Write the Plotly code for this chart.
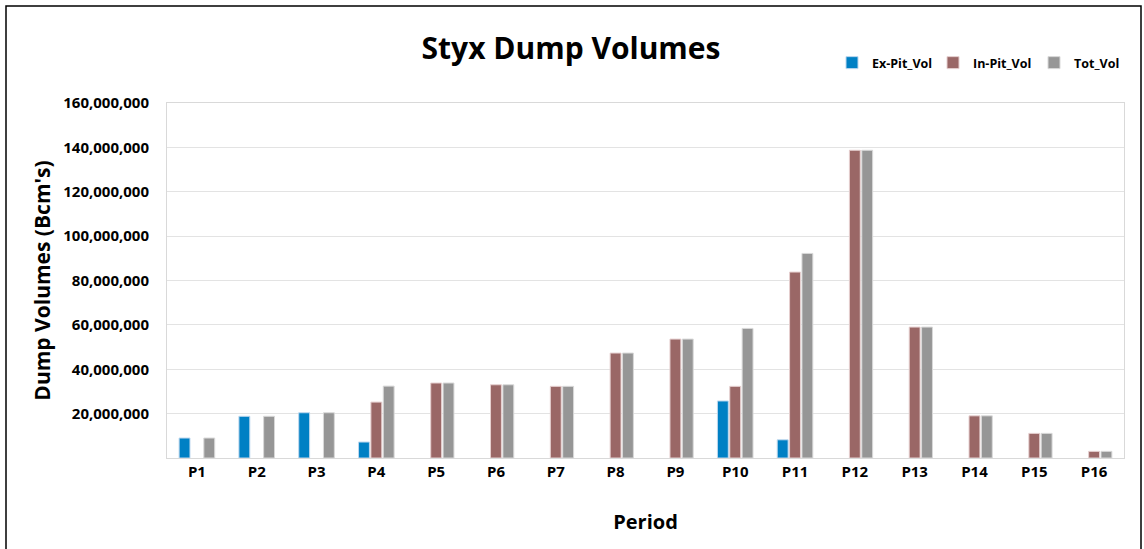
import plotly.graph_objects as go

periods = ["P1","P2","P3","P4","P5","P6","P7","P8","P9","P10","P11","P12","P13","P14","P15","P16"]
ex_pit = [9.0e6, 18.8e6, 20.4e6, 7.2e6, None, None, None, None, None, 25.7e6, 8.2e6, None, None, None, None, None]
in_pit = [None, None, None, 25.2e6, 33.8e6, 33.0e6, 32.3e6, 47.3e6, 53.6e6, 32.3e6, 83.8e6, 138.7e6, 59.0e6, 19.0e6, 11.1e6, 3.0e6]
tot_vol = [9.0e6, 18.8e6, 20.4e6, 32.4e6, 33.8e6, 33.0e6, 32.3e6, 47.3e6, 53.6e6, 58.4e6, 92.2e6, 138.7e6, 59.0e6, 19.0e6, 11.1e6, 3.0e6]
y_ticks = [20e6, 40e6, 60e6, 80e6, 100e6, 120e6, 140e6, 160e6]

FONT = "Open Sans"
fig = go.Figure()
fig.add_trace(go.Bar(name="Ex-Pit_Vol", x=periods, y=ex_pit,
                     marker=dict(color="#0080C4", line=dict(color="#BDD7EE", width=1))))
fig.add_trace(go.Bar(name="In-Pit_Vol", x=periods, y=in_pit,
                     marker=dict(color="#9A6766", line=dict(color="#E6D0D0", width=1))))
fig.add_trace(go.Bar(name="Tot_Vol", x=periods, y=tot_vol,
                     marker=dict(color="#969696", line=dict(color="#D9D9D9", width=1))))

L, R, T, B = 167, 20, 103, 91
W, H = 1144, 549
pw, ph = W - L - R, H - T - B

fig.update_layout(
    width=W, height=H,
    margin=dict(l=L, r=R, t=T, b=B, autoexpand=False),
    paper_bgcolor="white", plot_bgcolor="white",
    barmode="group", bargap=0.38, bargroupgap=0.12,
    font=dict(family=FONT, color="black"),
    title=dict(text="Styx Dump Volumes", x=571 / W, xanchor="center",
               y=1 - 48 / H, yanchor="middle",
               font=dict(size=30, family=FONT, color="black", weight="bold")),
    legend=dict(orientation="h", x=(832 - L) / pw, xanchor="left", y=(H - B - 63) / ph, yanchor="middle",
                font=dict(size=12.5, family=FONT, color="black", weight="bold"), itemwidth=30,
                entrywidth=56, entrywidthmode="pixels",
                bgcolor="rgba(0,0,0,0)", traceorder="normal"),
    xaxis=dict(title=dict(text="Period", font=dict(size=20, family=FONT, weight="bold"), standoff=34),
               tickfont=dict(size=15, family=FONT, weight="bold"),
               showline=True, linecolor="#D9D9D9", mirror=True, ticks=""),
    yaxis=dict(title=dict(text="Dump Volumes (Bcm's)", font=dict(size=21, family=FONT, weight="bold"), standoff=6),
               range=[0, 160e6], tickvals=y_ticks, tickformat=",",
               tickfont=dict(size=15, family=FONT, weight="bold"), ticklabelstandoff=14,
               showgrid=True, gridcolor="#E3E3E3", showline=True, linecolor="#D9D9D9", mirror=True,
               zeroline=False, ticks=""),
)

# outer chart border
fig.add_shape(type="rect", xref="paper", yref="paper",
              x0=(6 - L) / pw, x1=(1141 - L) / pw, y0=(H - B - 552) / ph, y1=(H - B - 6) / ph,
              line=dict(color="black", width=1.5), fillcolor="rgba(0,0,0,0)", layer="above")

fig.write_html("out.html")
